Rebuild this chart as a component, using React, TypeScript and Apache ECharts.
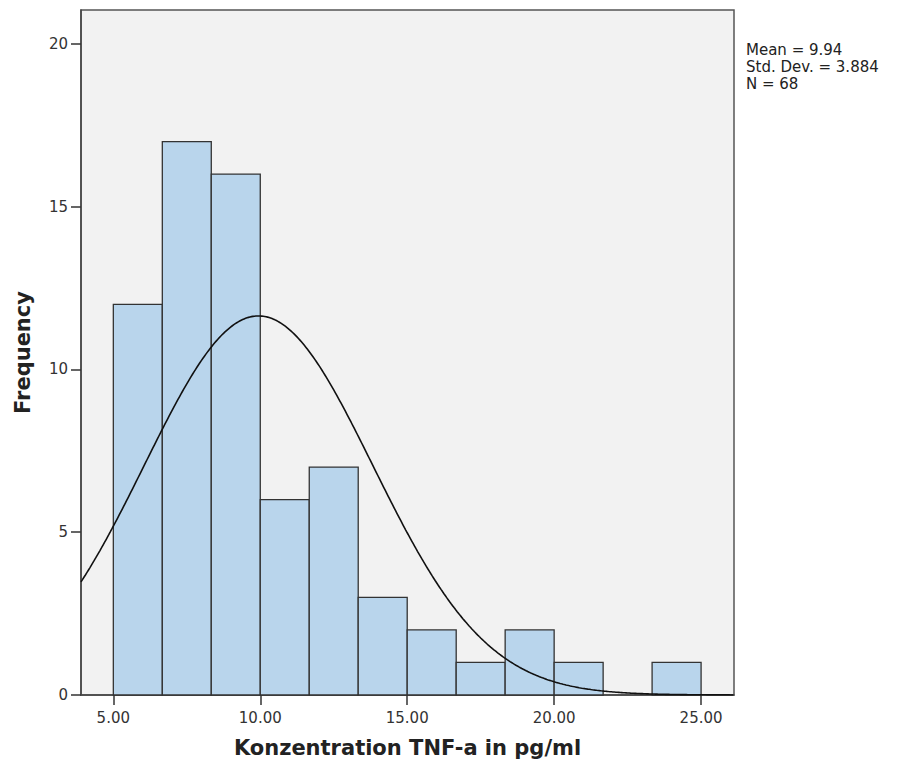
import React, { useEffect, useRef } from "react";
import * as echarts from "echarts";

// Histogram bins (lower edge, upper edge) and counts
const binEdges = [5, 6.667, 8.333, 10, 11.667, 13.333, 15, 16.667, 18.333, 20, 21.667, 23.333, 25];
const counts = [12, 17, 16, 6, 7, 3, 2, 1, 2, 1, 0, 1];
const xTicks = [5, 10, 15, 20, 25];
const yTicks = [0, 5, 10, 15, 20];
const statsLines = ["Mean = 9.94", "Std. Dev. = 3.884", "N = 68"];
const mean = 9.94;
const sd = 3.884;
const n = 68;
const xMin = 3.9;
const xMax = 26.12;
const yMax = 21.04;

export default function App() {
  const ref = useRef<HTMLDivElement>(null);
  useEffect(() => {
    if (!ref.current) return;
    const chart = echarts.init(ref.current, undefined, { renderer: "svg" });
    const binW = binEdges[1] - binEdges[0];
    const bars = counts.map((c, i) => [binEdges[i], binEdges[i + 1], c]);
    const curve: number[][] = [];
    for (let x = xMin; x <= xMax + 1e-9; x += 0.05) {
      const z = (x - mean) / sd;
      curve.push([x, (n * binW) / (sd * Math.sqrt(2 * Math.PI)) * Math.exp(-0.5 * z * z)]);
    }
    const font = "DejaVu Sans";
    chart.setOption({
      animation: false,
      grid: {
        left: 81,
        top: 10,
        right: 164,
        bottom: 76,
        show: true,
        backgroundColor: "#f2f2f2",
        borderColor: "#555",
        borderWidth: 1.5,
      },
      xAxis: {
        type: "value",
        min: xMin,
        max: xMax,
        splitLine: { show: false },
        axisLine: { show: true, onZero: false, lineStyle: { color: "#444", width: 1.5 } },
        axisTick: { show: true, inside: false, customValues: xTicks, length: 10, lineStyle: { color: "#333", width: 1.5 } },
        axisLabel: {
          customValues: xTicks,
          formatter: (v: number) => v.toFixed(2),
          color: "#333",
          fontSize: 15,
          fontFamily: font,
          margin: 15,
        },
        name: "Konzentration TNF-a in pg/ml",
        nameLocation: "middle",
        nameGap: 42,
        nameTextStyle: { fontSize: 21, fontWeight: "bold", color: "#222", fontFamily: font },
      },
      yAxis: {
        type: "value",
        min: 0,
        max: yMax,
        splitLine: { show: false },
        axisLine: { show: true, lineStyle: { color: "#444", width: 1.5 } },
        axisTick: { show: true, inside: false, customValues: yTicks, length: 10, lineStyle: { color: "#333", width: 1.5 } },
        axisLabel: {
          customValues: yTicks,
          color: "#333",
          fontSize: 15,
          fontFamily: font,
          margin: 13,
        },
        name: "Frequency",
        nameLocation: "middle",
        nameGap: 48,
        nameTextStyle: { fontSize: 21, fontWeight: "bold", color: "#222", fontFamily: font },
      },
      series: [
        {
          type: "custom",
          data: bars,
          renderItem: (params: any, api: any) => {
            const p0 = api.coord([api.value(0), 0]);
            const p1 = api.coord([api.value(1), api.value(2)]);
            if (api.value(2) <= 0) return null;
            return {
              type: "rect",
              shape: { x: p0[0], y: p1[1], width: p1[0] - p0[0], height: p0[1] - p1[1] },
              style: { fill: "#b9d5ec", stroke: "#333", lineWidth: 1.3 },
            };
          },
          encode: { x: [0, 1], y: 2 },
          z: 2,
        },
        {
          type: "line",
          data: curve,
          showSymbol: false,
          smooth: false,
          lineStyle: { color: "#111", width: 1.6 },
          z: 3,
        },
      ],
      graphic: statsLines.map((t, i) => ({
        type: "text",
        left: 746,
        top: 42 + i * 17,
        style: { text: t, fontSize: 15, fontFamily: font, fill: "#222" },
      })),
    });
    return () => chart.dispose();
  }, []);
  return (
    <div
      ref={ref}
      style={{ position: "fixed", left: 0, top: 0, width: 898, height: 771, background: "#fff" }}
    />
  );
}
